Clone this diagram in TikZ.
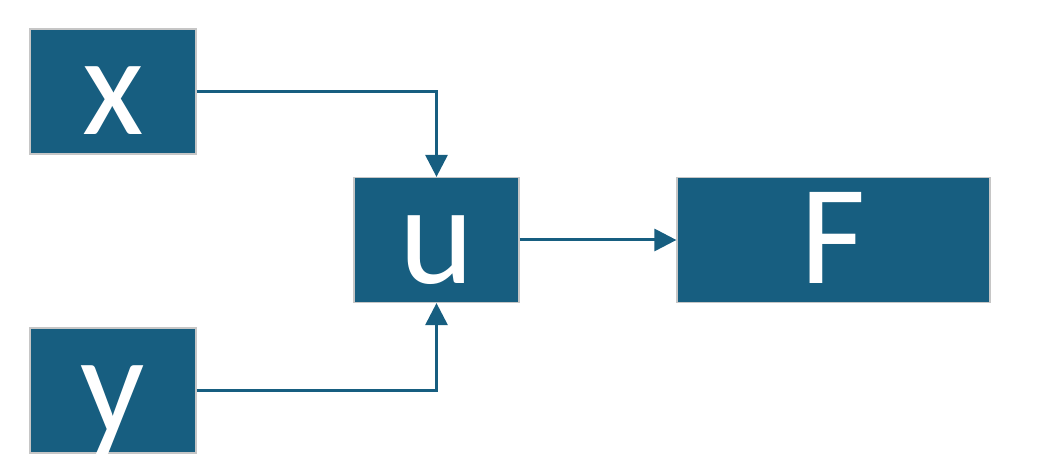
\documentclass[tikz,border=0pt]{standalone}
\usepackage{fontspec}
\setmainfont{Carlito}
\usetikzlibrary{arrows.meta, positioning}
\definecolor{boxblue}{RGB}{23,94,128}

\begin{document}
\begin{tikzpicture}[
  x=0.5pt, y=-0.5pt,
  blk/.style={draw=gray!45, line width=0.6pt, fill=boxblue, text=white,
              inner sep=0pt, text height=53pt, text depth=9.5pt,
              font=\fontsize{71}{78}\selectfont},
  arr/.style={-{Triangle[length=11pt, width=11pt]}, line width=1.5pt, boxblue},
]

%% frame
\useasboundingbox (0, 0) rectangle (1038, 474);

%% inputs
\node[blk, minimum width=83pt] (x) at (113, 91.5) {x};
\node[blk, minimum width=83pt] (y) at (113, 390.5) {y};

%% combined variable and function
\node[blk, minimum width=82.5pt] (u) at (436.5, 240) {u};
\node[blk, minimum width=156.5pt] (F) at (833.5, 240) {F};

%% connectors
\draw[arr] (x.east) -| (u.north);
\draw[arr] (y.east) -| (u.south);
\draw[arr] (u.east) -- (F.west);

\end{tikzpicture}
\end{document}
